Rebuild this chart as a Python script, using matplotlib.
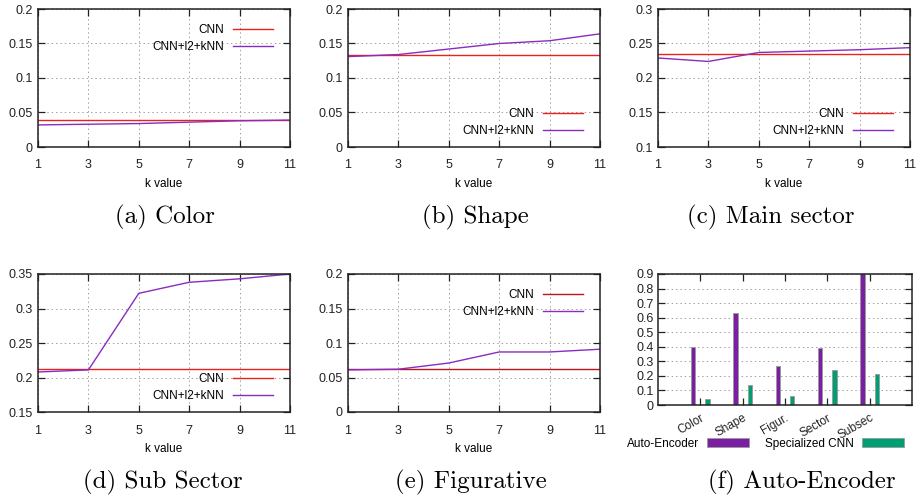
import matplotlib
matplotlib.use("Agg")
import matplotlib.pyplot as plt
import numpy as np

plt.rcParams['font.family'] = ['Liberation Sans', 'DejaVu Sans']
plt.rcParams['axes.unicode_minus'] = False

k = [1, 3, 5, 7, 9, 11]

cnn_color = 0.039
knn_color = [0.032, 0.033, 0.034, 0.036, 0.038, 0.039]
cnn_shape = 0.133
knn_shape = [0.131, 0.134, 0.142, 0.150, 0.154, 0.164]
cnn_main = 0.235
knn_main = [0.229, 0.224, 0.237, 0.239, 0.241, 0.244]
cnn_sub = 0.212
knn_sub = [0.208, 0.211, 0.322, 0.338, 0.343, 0.350]
cnn_fig = 0.062
knn_fig = [0.061, 0.062, 0.071, 0.087, 0.087, 0.091]

bar_cats = ['Color', 'Shape', 'Figur.', 'Sector', 'Subsec']
autoenc = [0.40, 0.63, 0.265, 0.395, 0.95]
special = [0.04, 0.135, 0.065, 0.24, 0.21]

W, H = 922, 498
fig = plt.figure(figsize=(W / 100, H / 100), dpi=100)

RED = '#e8231b'
PURPLE = '#8a2bc2'
FS = 9      # tick labels
LFS = 8.5   # legend / axis labels


def px_axes(l, t, r, b):
    return fig.add_axes([l / W, 1 - b / H, (r - l) / W, (b - t) / H])


def style(ax):
    ax.tick_params(direction='in', length=5, width=0.9, labelsize=FS,
                   top=True, right=True, colors='#222222')
    ax.tick_params(axis='x', pad=9)
    ax.tick_params(axis='y', pad=4)
    for s in ax.spines.values():
        s.set_linewidth(1.1)
        s.set_color('#222222')
    ax.grid(True, linestyle=(0, (1.5, 3)), color='#a0a0a0', linewidth=0.7)
    ax.set_axisbelow(True)


def line_panel(l, t, r, b, cnn, knn, ylim, yticks, ylabels, loc, cnn_col=RED):
    ax = px_axes(l, t, r, b)
    style(ax)
    ax.plot(k, [cnn] * len(k), color=cnn_col, lw=1.0, label='CNN')
    ax.plot(k, knn, color=PURPLE, lw=1.0, label='CNN+l2+kNN')
    ax.set_xlim(1, 11)
    ax.set_ylim(*ylim)
    ax.set_xticks(k)
    ax.set_yticks(yticks)
    ax.set_yticklabels(ylabels)
    ax.set_xlabel('k value', fontsize=LFS, labelpad=5)
    anchor = (1 - 7 / 252, 1 - 5 / 138) if loc == 'upper right' else (1 - 7 / 252, 0)
    ax.legend(loc=loc, bbox_to_anchor=anchor, frameon=False, markerfirst=False,
              fontsize=LFS, handlelength=3.4, handletextpad=0.75, labelspacing=0.45,
              borderaxespad=0.5, borderpad=0.35)
    return ax


t1, b1 = 9, 147
t2, b2 = 274, 412

line_panel(38, t1, 290, b1, cnn_color, knn_color, (0, 0.2),
           [0, 0.05, 0.1, 0.15, 0.2], ['0', '0.05', '0.1', '0.15', '0.2'], 'upper right')
line_panel(348, t1, 600, b1, cnn_shape, knn_shape, (0, 0.2),
           [0, 0.05, 0.1, 0.15, 0.2], ['0', '0.05', '0.1', '0.15', '0.2'], 'lower right')
line_panel(658, t1, 910, b1, cnn_main, knn_main, (0.1, 0.3),
           [0.1, 0.15, 0.2, 0.25, 0.3], ['0.1', '0.15', '0.2', '0.25', '0.3'], 'lower right')
line_panel(38, t2, 290, b2, cnn_sub, knn_sub, (0.15, 0.35),
           [0.15, 0.2, 0.25, 0.3, 0.35], ['0.15', '0.2', '0.25', '0.3', '0.35'], 'lower right')
line_panel(348, t2, 600, b2, cnn_fig, knn_fig, (0, 0.2),
           [0, 0.05, 0.1, 0.15, 0.2], ['0', '0.05', '0.1', '0.15', '0.2'], 'upper right',
           cnn_col='#c0141c')

# bar panel
ax = px_axes(658, t2, 912, 405)
style(ax)
ax.grid(True, axis='y', linestyle=(0, (1.5, 3)), color='#a0a0a0', linewidth=0.7)
ax.grid(False, axis='x')
x = np.arange(len(bar_cats))
ax.bar(x - 0.17, autoenc, width=0.1, color='#7b1fa2', edgecolor='#999999',
       linewidth=0.6, label='Auto-Encoder')
ax.bar(x + 0.17, special, width=0.1, color='#009e73', edgecolor='#999999',
       linewidth=0.6, label='Specialized CNN')
ax.set_xlim(-1, 5)
ax.set_ylim(0, 0.9)
ax.set_yticks(np.arange(0, 0.91, 0.1))
ax.set_yticklabels(['0', '0.1', '0.2', '0.3', '0.4', '0.5', '0.6', '0.7', '0.8', '0.9'])
ax.set_xticks(x)
ax.set_xticklabels(bar_cats, rotation=30, ha='right', rotation_mode='anchor', fontsize=LFS)
ax.tick_params(axis='y', pad=3)
ax.tick_params(axis='x', pad=5)
ax.legend(loc='upper left', bbox_to_anchor=(-31 / 254, -0.25), ncol=2, frameon=False,
          markerfirst=False, fontsize=LFS, handlelength=3.55, handleheight=0.75,
          handletextpad=0.68, columnspacing=1.36, borderaxespad=0, borderpad=0)

captions = [('(a) Color', 165, 217), ('(b) Shape', 475, 217), ('(c) Main sector', 771, 217),
            ('(d) Sub Sector', 163, 482), ('(e) Figurative', 471, 482), ('(f) Auto-Encoder', 802, 482)]
for txt, cx, cy in captions:
    fig.text(cx / W, 1 - cy / H, txt, ha='center', va='center', fontsize=18,
             family='cmr10')

fig.savefig('out.png', dpi=100)
